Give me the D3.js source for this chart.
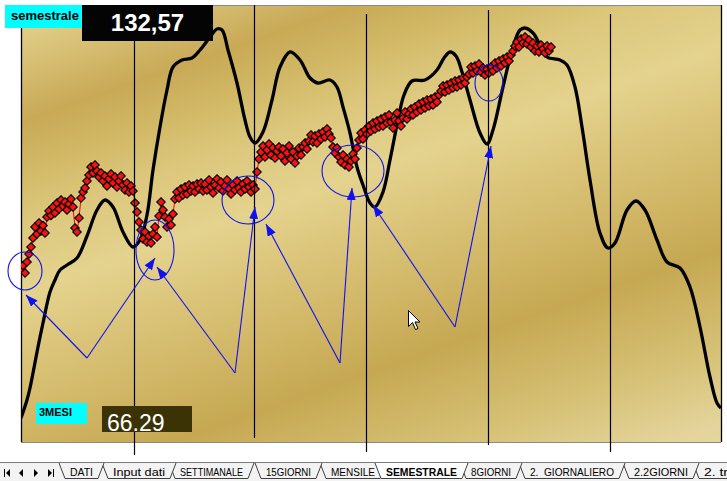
<!DOCTYPE html>
<html><head><meta charset="utf-8">
<script src="https://cdn.jsdelivr.net/npm/d3@7/dist/d3.min.js"></script>
<style>body{margin:0;background:#fff;}svg{display:block;}</style>
</head><body>
<svg id="c" width="727" height="481"></svg>
<script>
// ---- data (trading day index = position in the array) ----
const prices = [87.8,88.9,87.4,89.6,
91.2,92.6,94.4,
96.6,95.2,97.4,95.8,96.9,95.4,
98.6,99.8,98.9,100.6,99.4,
101.4,100.2,102.0,100.8,101.6,100.0,101.2,102.2,100.6,
96.4,95.6,98.4,
102.4,103.6,104.4,105.8,
107.0,108.6,107.4,109.0,107.8,106.6,
107.4,105.8,106.8,104.8,106.2,107.2,105.4,106.6,104.6,105.8,106.8,105.0,
104.0,105.4,103.6,104.8,103.8,
101.4,99.6,97.6,
96.0,94.2,95.6,93.6,94.8,93.4,95.2,96.6,94.6,
98.8,101.6,100.0,98.6,
96.6,98.2,97.0,99.2,
102.2,103.6,102.4,104.2,103.0,104.6,103.2,105.0,103.8,104.8,103.6,105.2,104.2,
105.4,103.8,105.2,104.0,106.0,104.6,103.4,105.0,106.2,104.4,105.6,103.8,104.8,106.0,
104.2,103.2,105.0,104.0,105.8,104.4,103.6,105.2,104.2,105.8,104.6,103.6,105.0,104.2,
107.6,110.2,111.6,112.8,110.6,112.0,113.2,111.0,112.4,110.4,111.8,
112.6,110.8,112.2,109.8,111.4,112.8,110.2,111.6,109.4,110.8,112.4,111.0,112.6,113.4,112.2,
113.8,115.0,113.6,114.8,113.4,115.2,114.2,115.6,114.6,116.2,115.2,114.4,
112.6,111.4,112.4,110.6,109.6,111.0,109.0,110.2,108.6,109.8,111.2,110.2,112.4,
114.0,115.4,114.2,116.0,115.2,116.8,115.8,117.4,116.2,117.8,116.6,
118.2,116.8,118.6,117.4,119.0,117.6,116.4,118.0,119.4,117.8,116.8,118.4,119.6,118.2,119.2,
120.2,119.0,120.6,119.6,121.2,120.0,121.6,120.4,122.0,120.8,122.2,121.0,122.6,121.6,123.0,
123.8,124.8,123.6,125.0,124.0,125.4,124.4,125.8,124.6,126.0,125.0,126.4,125.4,126.6,
127.2,128.6,127.4,128.8,127.8,129.2,127.6,128.4,127.0,128.2,127.4,
128.6,127.8,129.4,128.4,129.8,128.8,130.2,129.4,130.6,129.8,131.0,131.8,
132.8,133.6,132.6,134.2,133.4,134.6,133.2,134.0,
132.6,133.4,131.8,132.8,131.6,133.0,132.2,131.4,132.8,131.8,132.6];

const cycleIdx = [0,3,4.5,6,8.5,11,14.5,17,19.5,23,28,33,38,42,46,51,56,59.5,63,66,
69.5,73,76,80.5,85.5,89.5,94.5,98,100.5,103.5,108,112,114.5,117,121,125.5,129.5,134.5,139.5,144.5,
148.5,154.5,158,161,164.5,168,171,174.5,177,181,184.5,188,191.5,195.5,202,208,211.5,214.5,217.5,220.5,
224.5,229.5,233,236,241,246,249.5,252,256,259.5,263,269.5,273,277,280.5,284.5,289.5,293.5,297,303,
307.5,312,318,323,329.5,334.5,339.5,344.5,348,350];
const cycleVal = [58.4,62.0,64.4,67.4,72.6,77.4,83.6,86.0,88.0,89.0,90.4,94.8,100.0,102.0,100.6,95.6,92.6,94.0,99.0,108.0,
116.6,124.0,128.6,130.0,130.4,132.0,134.6,136.2,136.0,132.0,125.4,118.0,114.6,113.4,115.6,122.0,128.6,131.6,130.0,126.4,
125.4,126.0,124.6,120.6,115.4,108.6,105.0,101.4,100.6,103.6,110.0,117.0,123.0,125.8,126.0,128.0,130.4,131.6,130.8,127.6,
122.0,115.4,113.2,116.0,124.6,132.6,136.0,136.4,135.4,133.0,130.6,130.0,129.0,124.6,116.6,106.0,95.4,92.4,93.4,100.0,
101.8,100.0,94.0,89.6,88.4,84.6,76.6,66.6,61.4,60.4];

const cycleLowIdx = [56.5, 116.5, 172.5, 233.5, 294.5];
const cycleLowTop = [139.4, 141.0, 139.2, 140.0, 139.2];
const cycleLowBottom = [51.0, 54.4, 51.6, 53.0, 51.6];

const circleIdx = [2, 67, 113.5, 166, 234];
const circleVal = [87.8, 92.0, 102.0, 107.8, 125.4];

const arrowVertexIdx = [33, 107, 159.5, 217];
const arrowVertexVal = [70.4, 67.4, 69.4, 76.6];
const arrowLeftIdx = [2.5, 68, 122.5, 176];
const arrowLeftVal = [83.0, 88.6, 97.2, 101.0];
const arrowRightIdx = [67, 117, 165.5, 235];
const arrowRightVal = [90.4, 100.6, 104.4, 112.8];

const headline = "semestrale";
const headlineValue = "132,57";
const subLabel = "3MESI";
const subValue = "66.29";
const tabs = ["DATI","Input dati","SETTIMANALE","15GIORNI","MENSILE","SEMESTRALE","8GIORNI","2.  GIORNALIERO","2.2GIORNI","2. tr"];
const activeTab = "SEMESTRALE";

// ---- layout ----
const L = 21, R = 721, T = 5, B = 442;
const svg = d3.select("#c");
const x = d3.scaleLinear().domain([0, 350]).range([L, R]);
const y = d3.scaleLinear().domain([53.6, 141]).range([B, T]);

const defs = svg.append("defs");
const g = defs.append("linearGradient").attr("id","bg").attr("gradientUnits","userSpaceOnUse")
  .attr("x1",0).attr("y1",0).attr("x2",224).attr("y2",639);
[[0,"#e6d593"],[0.05,"#e1ce88"],[0.18,"#c8a956"],[0.26,"#d3bb69"],[0.32,"#dcc77c"],[0.42,"#e4d38e"],
 [0.50,"#dcc67c"],[0.70,"#c6a852"],[0.84,"#d6c176"],[0.94,"#e4d49b"],[1,"#e6d8a2"]]
 .forEach(([o,c]) => g.append("stop").attr("offset",o).attr("stop-color",c));
defs.append("clipPath").attr("id","clip").append("rect").attr("x",L).attr("y",T).attr("width",R-L).attr("height",B-T);
defs.append("marker").attr("id","ah").attr("markerUnits","userSpaceOnUse")
  .attr("markerWidth",13).attr("markerHeight",9).attr("refX",12).attr("refY",4.5).attr("orient","auto")
  .append("path").attr("d","M0,0 L12,4.5 L0,9 Z").attr("fill","#1010f0");

// background
svg.append("rect").attr("x",L).attr("y",T).attr("width",R-L).attr("height",B-T).attr("fill","url(#bg)");
svg.append("line").attr("x1",L).attr("x2",R).attr("y1",T+0.5).attr("y2",T+0.5).attr("stroke","#8a8a8a");
svg.append("line").attr("x1",L).attr("x2",R).attr("y1",B+0.5).attr("y2",B+0.5).attr("stroke","#8a8a8a");
svg.append("line").attr("x1",L+0.5).attr("x2",L+0.5).attr("y1",T).attr("y2",B).attr("stroke","#000").attr("stroke-width",1.3);
svg.append("line").attr("x1",R+0.5).attr("x2",R+0.5).attr("y1",T).attr("y2",B).attr("stroke","#000").attr("stroke-width",1.3);

const plot = svg.append("g").attr("clip-path","url(#clip)");
const cyc = cycleIdx.map((d,i)=>[d, cycleVal[i]]);
plot.append("path").datum(cyc)
  .attr("d", d3.line().x(d=>x(d[0])).y(d=>y(d[1])).curve(d3.curveCatmullRom.alpha(0.5)))
  .attr("fill","none").attr("stroke","#000").attr("stroke-width",3.3).attr("stroke-linejoin","round");

const pts = prices.map((v,i)=>[i,v]);
plot.append("path").datum(pts)
  .attr("d", d3.line().x(d=>x(d[0])).y(d=>y(d[1])))
  .attr("fill","none").attr("stroke","#ff0000").attr("stroke-width",1);
const diamond = d3.symbol().type(d3.symbolDiamond2).size(46);
plot.selectAll("path.pt").data(pts).join("path").attr("class","pt")
  .attr("transform", d=>`translate(${x(d[0])},${y(d[1])})`)
  .attr("d", diamond).attr("fill","#ff1010").attr("stroke","#000").attr("stroke-width",1.1);

svg.selectAll("line.low").data(cycleLowIdx).join("line").attr("class","low")
  .attr("x1",d=>Math.round(x(d))+0.5).attr("x2",d=>Math.round(x(d))+0.5)
  .attr("y1",(d,i)=>y(cycleLowTop[i])).attr("y2",(d,i)=>y(cycleLowBottom[i]))
  .attr("stroke","#000").attr("stroke-width",1.2);

const rxs = [17,19,26,31,14], rys = [19,30,24,26,18];
svg.selectAll("ellipse.ann").data(circleIdx).join("ellipse").attr("class","ann")
  .attr("cx",d=>x(d)).attr("cy",(d,i)=>y(circleVal[i]))
  .attr("rx",(d,i)=>rxs[i]).attr("ry",(d,i)=>rys[i])
  .attr("fill","none").attr("stroke","#1010f0").attr("stroke-width",1.1);

arrowVertexIdx.forEach((vi,i)=>{
  [[arrowLeftIdx[i],arrowLeftVal[i]],[arrowRightIdx[i],arrowRightVal[i]]].forEach(t=>{
    svg.append("line").attr("x1",x(vi)).attr("y1",y(arrowVertexVal[i]))
      .attr("x2",x(t[0])).attr("y2",y(t[1]))
      .attr("stroke","#1010f0").attr("stroke-width",1.1).attr("marker-end","url(#ah)");
  });
});

svg.append("rect").attr("x",5).attr("y",5).attr("width",77).attr("height",23).attr("fill","#00ffff");
svg.append("text").attr("x",11).attr("y",19.5).text(headline)
  .attr("font-family","Liberation Sans, Arial, sans-serif").attr("font-weight","bold").attr("font-size",13).attr("fill","#000");
svg.append("rect").attr("x",82).attr("y",5).attr("width",131).attr("height",36).attr("fill","#040404");
svg.append("text").attr("x",147.5).attr("y",31).attr("text-anchor","middle").text(headlineValue)
  .attr("font-family","Liberation Sans, Arial, sans-serif").attr("font-weight","bold").attr("font-size",24).attr("fill","#fff");
svg.append("rect").attr("x",36).attr("y",403).attr("width",51).attr("height",21).attr("fill","#00ffff");
svg.append("text").attr("x",39).attr("y",415.7).text(subLabel)
  .attr("font-family","Liberation Sans, Arial, sans-serif").attr("font-weight","bold").attr("font-size",11).attr("fill","#000");
svg.append("rect").attr("x",102).attr("y",406).attr("width",90).attr("height",26).attr("fill","#3b3306");
svg.append("text").attr("x",107).attr("y",430.5).text(subValue)
  .attr("font-family","Liberation Sans, Arial, sans-serif").attr("font-size",23).attr("fill","#fff");

svg.append("path").attr("transform","translate(408.5,310.5)")
  .attr("d","M0,0 L0,16 L4,12 L7,19 L9.5,18 L6.5,11.5 L11.5,11.5 Z")
  .attr("fill","#fff").attr("stroke","#000").attr("stroke-width",1);

const tb = svg.append("g");
tb.append("rect").attr("x",0).attr("y",462).attr("width",727).attr("height",19).attr("fill","#f3f3f3");
tb.append("line").attr("x1",0).attr("x2",727).attr("y1",462.5).attr("y2",462.5).attr("stroke","#7a7a7a");
const nav = tb.append("g").attr("fill","#000");
nav.append("rect").attr("x",4).attr("y",469).attr("width",1).attr("height",8);
nav.append("path").attr("d","M10,469 L6,473 L10,477 Z");
nav.append("path").attr("d","M23,469 L19,473 L23,477 Z");
nav.append("path").attr("d","M34,469 L38,473 L34,477 Z");
nav.append("path").attr("d","M48,469 L52,473 L48,477 Z");
nav.append("rect").attr("x",53).attr("y",469).attr("width",1).attr("height",8);

const tabTextX = [70,113,180,266,331,386,471,530,634,704];
const tabTextW = [23,52,63,45,44,71,40,84,54,24];
const order = d3.range(tabs.length).reverse().filter(i=>tabs[i]!==activeTab).concat([tabs.indexOf(activeTab)]);
order.forEach(i=>{
  const act = tabs[i]===activeTab;
  const xl = tabTextX[i]-11, xr = tabTextX[i]+tabTextW[i]+11;
  const tg = tb.append("g");
  tg.append("path").attr("d",`M${xl},463 L${xl+6},478.5 L${xr-6},478.5 L${xr},463`)
    .attr("fill", act ? "#ffffff" : "#f3f3f3").attr("stroke","#404040").attr("stroke-width",1);
  tg.append("text").attr("x",tabTextX[i]).attr("y",476).text(tabs[i])
    .attr("font-family","Liberation Sans, Arial, sans-serif").attr("font-size",11)
    .attr("font-weight", act ? "bold" : "normal").style("white-space","pre")
    .attr("textLength",tabTextW[i]).attr("lengthAdjust","spacingAndGlyphs").attr("fill","#000");
});
</script>
</body></html>
